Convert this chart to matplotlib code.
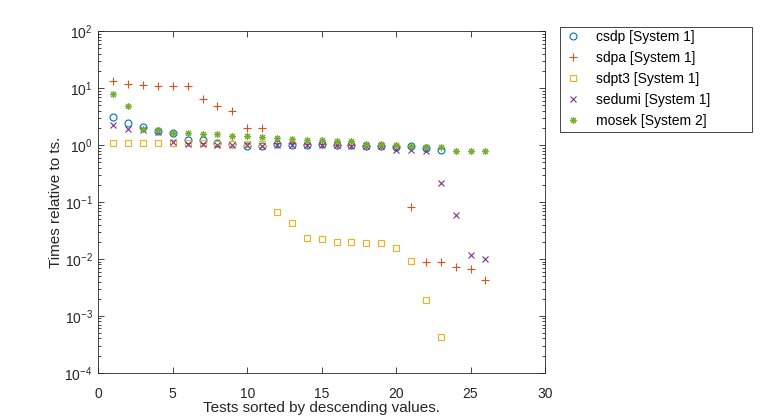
import numpy as np
import matplotlib
matplotlib.use("Agg")
import matplotlib.pyplot as plt
from matplotlib.patches import Rectangle
from matplotlib.ticker import LogLocator, NullFormatter

plt.rcParams['font.family'] = ['Liberation Sans', 'DejaVu Sans']
plt.rcParams['mathtext.fontset'] = 'custom'
plt.rcParams['mathtext.rm'] = 'Liberation Sans'

# values (times relative to ts.)
csdp = [3.07, 2.48, 2.05, 1.76, 1.61, 1.22, 1.21, 1.07, 1.03, 0.97, 0.96, 1.03,
        1.0, 1.0, 1.03, 1.0, 1.0, 0.95, 0.95, 0.92, 0.95, 0.9, 0.83]
sdpa = [13.3, 11.8, 11.3, 11.0, 10.9, 10.9, 6.5, 4.85, 3.96, 2.01, 2.01, 1.07,
        1.07, 1.03, 1.03, 1.0, 1.0, 0.96, 0.96, 0.96, 0.082, 0.0089, 0.0089,
        0.0071, 0.0066, 0.0042]
sdpt3 = [1.07, 1.07, 1.07, 1.07, 1.07, 1.07, 1.07, 1.05, 1.05, 1.03, 1.03,
         0.068, 0.042, 0.023, 0.022, 0.0195, 0.0195, 0.019, 0.019, 0.0153,
         0.0091, 0.0019, 0.00042]
sedumi = [2.25, 1.89, 1.84, 1.72, 1.14, 1.04, 1.04, 1.0, 1.0, 0.99, 0.98, 1.0,
          1.0, 1.0, 1.0, 0.99, 0.97, 0.95, 0.95, 0.82, 0.81, 0.79, 0.22, 0.058,
          0.0118, 0.010]
mosek = [7.9, 4.9, 1.89, 1.84, 1.65, 1.6, 1.54, 1.54, 1.46, 1.46, 1.37, 1.35,
         1.26, 1.22, 1.22, 1.18, 1.19, 1.04, 1.04, 1.0, 0.97, 0.93, 0.92,
         0.785, 0.785, 0.78]

names = ["csdp [System 1]", "sdpa [System 1]", "sdpt3 [System 1]",
         "sedumi [System 1]", "mosek [System 2]"]
series = [csdp, sdpa, sdpt3, sedumi, mosek]
markers = ["o", "+", "s", "x", (8, 2, 0)]
sizes = [5, 5.5, 5, 4.5, 5]
colors = ["#0072BD", "#D95319", "#EDB120", "#7E2F8E", "#77AC30"]

fig = plt.figure(figsize=(7.6, 4.2), dpi=100)
ax = fig.add_axes([98.3 / 760, 1 - 372.7 / 420, (545 - 98.3) / 760, (372.7 - 31.3) / 420])

for vals, m, ms, c, name in zip(series, markers, sizes, colors, names):
    x = np.arange(1, len(vals) + 1)
    ax.plot(x, vals, linestyle="none", marker=m, markersize=ms, markeredgewidth=0.8,
            markerfacecolor="none", markeredgecolor=c, label=name)

ax.set_yscale("log")
ax.set_xlim(0, 30)
ax.set_ylim(1e-4, 1e2)
ax.set_xticks(np.arange(0, 31, 5))
ax.yaxis.set_major_locator(LogLocator(base=10, numticks=10))
ax.yaxis.set_minor_locator(LogLocator(base=10, subs=np.arange(2, 10), numticks=10))
ax.yaxis.set_minor_formatter(NullFormatter())
ax.tick_params(which="both", direction="in", top=True, right=True, labelsize=10,
               width=0.6, colors="#262626")
ax.tick_params(which="major", length=4)
ax.tick_params(which="minor", length=2)
ax.tick_params(axis="x", pad=10)
ax.tick_params(axis="y", pad=4)
for s in ax.spines.values():
    s.set_linewidth(0.6)
    s.set_color("#262626")

ax.set_xlabel("Tests sorted by descending values.", fontsize=11, labelpad=0, color="#262626")
ax.set_ylabel("Times relative to ts.", fontsize=11, labelpad=1, color="#262626")

# legend box is wider than its entries, draw the frame separately
leg = ax.legend(loc="upper left", bbox_to_anchor=(564 / 760, 1 - 30 / 420),
                bbox_transform=fig.transFigure, fontsize=10, frameon=False,
                borderaxespad=0, borderpad=0, handlelength=1.3,
                handletextpad=1.0, labelspacing=0.5)
fig.patches.append(Rectangle((560 / 760, 1 - 132.3 / 420), (752 - 560) / 760,
                             (132.3 - 26.7) / 420, transform=fig.transFigure,
                             fill=False, edgecolor="#262626", linewidth=0.6))

fig.savefig("out.png", dpi=100)
